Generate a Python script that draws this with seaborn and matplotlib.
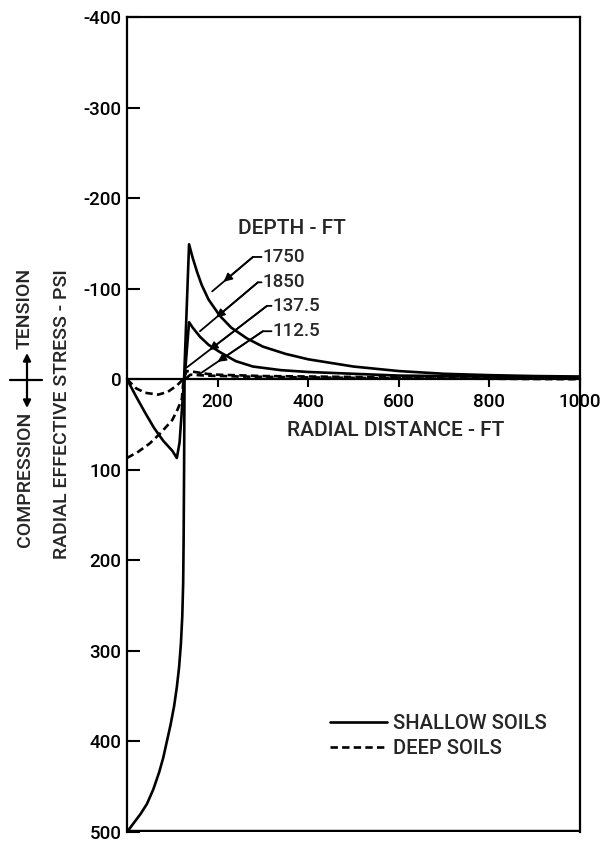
import matplotlib
matplotlib.use("Agg")
import matplotlib.pyplot as plt
import seaborn as sns
import pandas as pd
import numpy as np
from matplotlib.lines import Line2D
from matplotlib.patches import FancyArrowPatch

# ---------------- data ----------------
depth_labels = ["1750", "1850", "137.5", "112.5"]
soil_types = ["SHALLOW SOILS", "SHALLOW SOILS", "DEEP SOILS", "DEEP SOILS"]

x_1750 = [0, 20, 40, 60, 80, 100, 110, 116, 126, 137, 145, 155, 165, 180, 205, 230, 265, 300, 350, 400, 450, 500, 600, 700, 800, 900, 1000]
y_1750 = [0, 19, 37, 54, 68, 79, 87, 70, 0, -149, -134, -118, -104, -88, -70, -57, -45, -36, -28, -22, -18, -14, -9, -6, -4.5, -3.5, -3]

x_1850 = [0, 15, 30, 44, 58, 71, 80, 88, 96, 104, 110, 115, 119, 122, 124, 125, 126, 127, 137, 145, 161, 180, 205, 240, 278, 340, 400, 500, 600, 800, 1000]
y_1850 = [500, 490, 480, 469, 453, 434, 418, 400, 382, 361, 340, 318, 292, 262, 225, 177, 100, 0, -63, -57, -47, -38, -30, -20, -14, -10, -8, -6, -4, -3, -2]

x_1375 = [0, 20, 40, 69, 90, 110, 124, 132, 150, 175, 200, 300, 400, 600, 800, 1000]
y_1375 = [0, 10, 15, 17, 14, 7, 0, -9, -8, -6, -5, -3.5, -3, -2, -1, -1]

x_1125 = [0, 25, 50, 75, 100, 112, 121, 124, 128, 140, 175, 250, 400, 600, 800, 1000]
y_1125 = [87, 80, 71, 59, 45, 33, 22, 5, 0, -5, -4, -3, -2, -1, -0.5, 0]

x_ticks = [200, 400, 600, 800, 1000]
y_ticks = [-400, -300, -200, -100, 0, 100, 200, 300, 400, 500]

xs = [x_1750, x_1850, x_1375, x_1125]
ys = [y_1750, y_1850, y_1375, y_1125]
rows = []
for d, s, xx, yy in zip(depth_labels, soil_types, xs, ys):
    for a, b in zip(xx, yy):
        rows.append({"dist": a, "stress": b, "depth": d, "soil": s})
df = pd.DataFrame(rows)

# ---------------- style ----------------
sns.set_style("white")
plt.rcParams["font.family"] = ["Roboto", "DejaVu Sans"]
plt.rcParams["font.weight"] = "medium"
plt.rcParams["axes.unicode_minus"] = False

W, H = 602, 844
fig = plt.figure(figsize=(W / 100, H / 100), dpi=100)
L, R, T, B = 127, 580, 17, 832
ax = fig.add_axes([L / W, 1 - B / H, (R - L) / W, (B - T) / H])

def fx(px):
    return px / W

def fy(py):
    return 1 - py / H

FS_TICK = 13.5
FS_LAB = 14
LW = 1.9
DASH = (2.8, 1.6)

sns.lineplot(data=df, x="dist", y="stress", hue="depth", style="soil",
             palette={d: "black" for d in depth_labels},
             dashes={"SHALLOW SOILS": "", "DEEP SOILS": DASH},
             sort=False, estimator=None, legend=False, lw=LW, ax=ax)

ax.set_xlim(0, 1000)
ax.set_ylim(500, -400)
ax.set_xlabel("")
ax.set_ylabel("")

for sp in ax.spines.values():
    sp.set_color("black")
    sp.set_linewidth(1.6)
ax.spines["bottom"].set_position(("data", 0))
ax.axhline(500, color="black", lw=1.6 * 2, clip_on=True)

ax.set_xticks(x_ticks)
ax.set_xticklabels([str(v) for v in x_ticks])
ax.set_yticks(y_ticks)
ax.set_yticklabels([str(v) for v in y_ticks])
ax.tick_params(axis="x", direction="out", length=6, width=1.5, labelsize=FS_TICK,
               pad=4, colors="black", bottom=True)
ax.tick_params(axis="y", direction="in", length=9, width=1.5, labelsize=FS_TICK,
               pad=4, colors="black", left=True)

# axis title on x
ax.text(594, 57, "RADIAL DISTANCE - FT", ha="center", va="center", fontsize=15)

# depth labels
ax.text(245, -166, "DEPTH - FT", ha="left", va="center", fontsize=15)
lab = [("1750", 300, -135, 278, (188, -97)),
       ("1850", 300, -107, 289, (161, -53)),
       ("137.5", 322, -81, 309, (132, -13)),
       ("112.5", 322, -53, 300, (161, -6))]
for txt, tx, ty, sx, end in lab:
    ax.text(tx, ty, txt, ha="left", va="center", fontsize=FS_TICK)
    ax.plot([tx - 3, sx, end[0]], [ty, ty, end[1]], color="black", lw=1.3)
    hx = sx + 0.72 * (end[0] - sx)
    hy = ty + 0.72 * (end[1] - ty)
    ax.annotate("", xy=(hx, hy), xytext=(sx, ty),
                arrowprops=dict(arrowstyle="-|>", color="black", lw=1.3,
                                mutation_scale=12, shrinkA=0, shrinkB=0))

# legend
handles = [Line2D([], [], color="black", lw=LW, ls="-"),
           Line2D([], [], color="black", lw=LW, ls=(0, DASH))]
leg = ax.legend(handles, ["SHALLOW SOILS", "DEEP SOILS"], loc="upper left",
                bbox_to_anchor=(fx(330), fy(714)), bbox_transform=fig.transFigure,
                frameon=False, fontsize=14.5, handlelength=2.85,
                handletextpad=0.3, borderpad=0, borderaxespad=0, labelspacing=0.3)

# y labels
fig.text(fx(62), fy(414), "RADIAL EFFECTIVE STRESS - PSI", rotation=90,
         ha="center", va="center", fontsize=FS_LAB)
fig.text(fx(25), fy(412), "COMPRESSION", rotation=90, ha="center", va="top",
         fontsize=FS_LAB)
fig.text(fx(25), fy(349), "TENSION", rotation=90, ha="center", va="bottom",
         fontsize=FS_LAB)
fig.add_artist(Line2D([fx(10), fx(42)], [fy(380), fy(380)], color="black",
                      lw=1.6, transform=fig.transFigure))
fig.add_artist(FancyArrowPatch((fx(27), fy(380)), (fx(27), fy(353)),
                               arrowstyle="-|>", mutation_scale=11, lw=1.6,
                               color="black", transform=fig.transFigure,
                               shrinkA=0, shrinkB=0))
fig.add_artist(FancyArrowPatch((fx(27), fy(380)), (fx(27), fy(408)),
                               arrowstyle="-|>", mutation_scale=11, lw=1.6,
                               color="black", transform=fig.transFigure,
                               shrinkA=0, shrinkB=0))

fig.savefig("out.png", dpi=100, facecolor="white")
